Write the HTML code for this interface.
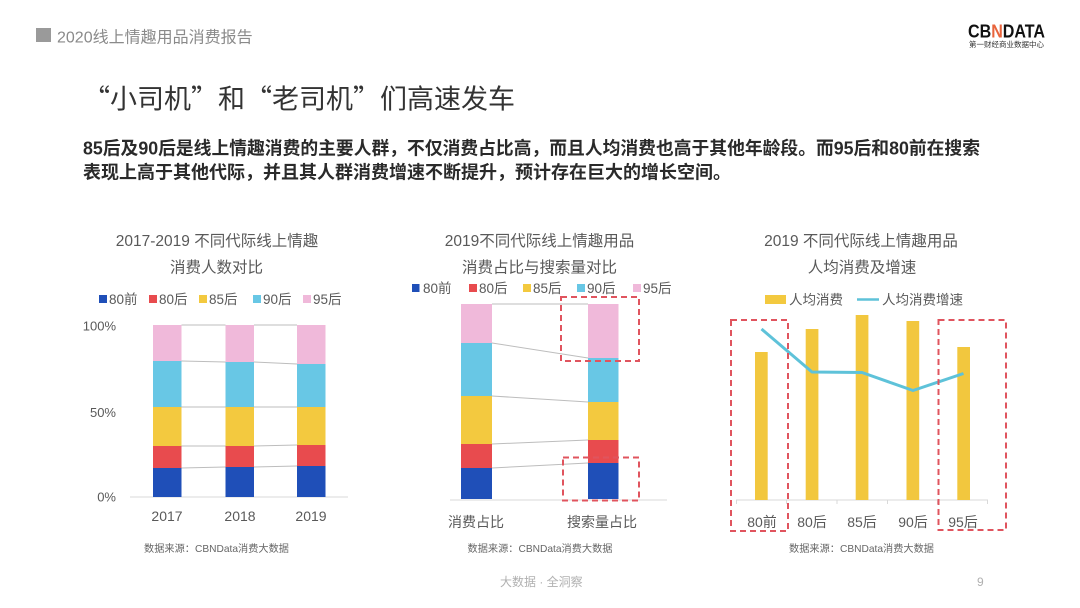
<!DOCTYPE html>
<html><head><meta charset="utf-8">
<style>
html,body{margin:0;padding:0;background:#fff;}
svg{display:block;}
text{font-family:"Liberation Sans","Noto Sans CJK SC",sans-serif;}
.cj{font-family:"Noto Sans CJK SC","Liberation Sans",sans-serif;}
</style></head>
<body>
<svg width="1080" height="608" viewBox="0 0 1080 608" xmlns="http://www.w3.org/2000/svg">
<rect width="1080" height="608" fill="#fff"/>
<!-- header -->
<rect x="36" y="28" width="15" height="14" fill="#9a9a9a"/>
<text x="57" y="42.5" font-size="16" fill="#8a8a8a">2020线上情趣用品消费报告</text>
<!-- logo -->
<text x="968" y="37.3" font-size="18" font-weight="bold" fill="#111" textLength="77" lengthAdjust="spacingAndGlyphs">CB<tspan fill="#e8643c">N</tspan>DATA</text>
<text x="969" y="46.8" font-size="7.5" fill="#333" textLength="75" lengthAdjust="spacingAndGlyphs">第一财经商业数据中心</text>
<!-- title -->
<text class="cj" x="83" y="108.3" font-size="27" fill="#333">“小司机”和“老司机”们高速发车</text>
<!-- body -->
<text x="83" y="154.5" font-size="18" font-weight="bold" fill="#2a2a2a" textLength="897" lengthAdjust="spacingAndGlyphs">85后及90后是线上情趣消费的主要人群，不仅消费占比高，而且人均消费也高于其他年龄段。而95后和80前在搜索</text>
<text x="83" y="178.5" font-size="18" font-weight="bold" fill="#2a2a2a">表现上高于其他代际，并且其人群消费增速不断提升，预计存在巨大的增长空间。</text>

<!-- ============ Chart 1 ============ -->
<g fill="#595959" text-anchor="middle">
<text x="217" y="246" font-size="15.5">2017-2019 不同代际线上情趣</text>
<text x="216.5" y="272.4" font-size="15.5">消费人数对比</text>
</g>
<g font-size="13.5" fill="#595959">
<rect x="99" y="295" width="8" height="8" fill="#1f4fb8"/><text x="109" y="304">80前</text>
<rect x="149" y="295" width="8" height="8" fill="#e84b4e"/><text x="159" y="304">80后</text>
<rect x="199" y="295" width="8" height="8" fill="#f3c93f"/><text x="209" y="304">85后</text>
<rect x="253" y="295" width="8" height="8" fill="#68c7e5"/><text x="263" y="304">90后</text>
<rect x="303" y="295" width="8" height="8" fill="#f0b9da"/><text x="313" y="304">95后</text>
</g>
<g font-size="13" fill="#595959" text-anchor="end">
<text x="116" y="330.7">100%</text>
<text x="116" y="417">50%</text>
<text x="116" y="501.7">0%</text>
</g>
<line x1="130" y1="497" x2="348" y2="497" stroke="#d9d9d9" stroke-width="1"/>
<!-- connectors -->
<g stroke="#bdbdbd" stroke-width="1">
<line x1="181.5" y1="325" x2="225.5" y2="325"/>
<line x1="181.5" y1="361" x2="225.5" y2="362"/>
<line x1="181.5" y1="407" x2="225.5" y2="407"/>
<line x1="181.5" y1="446" x2="225.5" y2="446"/>
<line x1="181.5" y1="468" x2="225.5" y2="467"/>
<line x1="254" y1="325" x2="297" y2="325"/>
<line x1="254" y1="362" x2="297" y2="364"/>
<line x1="254" y1="407" x2="297" y2="407"/>
<line x1="254" y1="446" x2="297" y2="445"/>
<line x1="254" y1="467" x2="297" y2="466"/>
</g>
<!-- bars 2017 -->
<rect x="153" y="325" width="28.5" height="36" fill="#f0b9da"/>
<rect x="153" y="361" width="28.5" height="46" fill="#68c7e5"/>
<rect x="153" y="407" width="28.5" height="39" fill="#f3c93f"/>
<rect x="153" y="446" width="28.5" height="22" fill="#e84b4e"/>
<rect x="153" y="468" width="28.5" height="29" fill="#1f4fb8"/>
<!-- 2018 -->
<rect x="225.5" y="325" width="28.5" height="37" fill="#f0b9da"/>
<rect x="225.5" y="362" width="28.5" height="45" fill="#68c7e5"/>
<rect x="225.5" y="407" width="28.5" height="39" fill="#f3c93f"/>
<rect x="225.5" y="446" width="28.5" height="21" fill="#e84b4e"/>
<rect x="225.5" y="467" width="28.5" height="30" fill="#1f4fb8"/>
<!-- 2019 -->
<rect x="297" y="325" width="28.5" height="39" fill="#f0b9da"/>
<rect x="297" y="364" width="28.5" height="43" fill="#68c7e5"/>
<rect x="297" y="407" width="28.5" height="38" fill="#f3c93f"/>
<rect x="297" y="445" width="28.5" height="21" fill="#e84b4e"/>
<rect x="297" y="466" width="28.5" height="31" fill="#1f4fb8"/>
<g font-size="14" fill="#595959" text-anchor="middle">
<text x="167" y="521">2017</text>
<text x="240" y="521">2018</text>
<text x="311" y="521">2019</text>
</g>
<text x="216.5" y="552" font-size="10.2" fill="#666" text-anchor="middle">数据来源：CBNData消费大数据</text>

<!-- ============ Chart 2 ============ -->
<g fill="#595959" text-anchor="middle">
<text x="539.5" y="246" font-size="15.5">2019不同代际线上情趣用品</text>
<text x="539.5" y="272.4" font-size="15.5">消费占比与搜索量对比</text>
</g>
<g font-size="13.5" fill="#595959">
<rect x="412" y="284" width="7.5" height="8" fill="#1f4fb8"/><text x="423" y="293">80前</text>
<rect x="469" y="284" width="8" height="8" fill="#e84b4e"/><text x="479" y="293">80后</text>
<rect x="523" y="284" width="8" height="8" fill="#f3c93f"/><text x="533" y="293">85后</text>
<rect x="577" y="284" width="8" height="8" fill="#68c7e5"/><text x="587" y="293">90后</text>
<rect x="633" y="284" width="8" height="8" fill="#f0b9da"/><text x="643" y="293">95后</text>
</g>
<line x1="450" y1="500" x2="667" y2="500" stroke="#d9d9d9" stroke-width="1"/>
<g stroke="#bdbdbd" stroke-width="1">
<line x1="492" y1="304" x2="588" y2="304"/>
<line x1="492" y1="343" x2="588" y2="358"/>
<line x1="492" y1="396" x2="588" y2="402"/>
<line x1="492" y1="444" x2="588" y2="440"/>
<line x1="492" y1="468" x2="588" y2="463"/>
</g>
<rect x="461" y="304" width="31" height="39" fill="#f0b9da"/>
<rect x="461" y="343" width="31" height="53" fill="#68c7e5"/>
<rect x="461" y="396" width="31" height="48" fill="#f3c93f"/>
<rect x="461" y="444" width="31" height="24" fill="#e84b4e"/>
<rect x="461" y="468" width="31" height="31" fill="#1f4fb8"/>
<rect x="588" y="304" width="30.5" height="54" fill="#f0b9da"/>
<rect x="588" y="358" width="30.5" height="44" fill="#68c7e5"/>
<rect x="588" y="402" width="30.5" height="38" fill="#f3c93f"/>
<rect x="588" y="440" width="30.5" height="23" fill="#e84b4e"/>
<rect x="588" y="463" width="30.5" height="36" fill="#1f4fb8"/>
<g fill="none" stroke="#e0545e" stroke-width="2" stroke-dasharray="6 4">
<rect x="561" y="297" width="78" height="64"/>
<rect x="563" y="457.5" width="76" height="43"/>
</g>
<g font-size="14" fill="#595959" text-anchor="middle">
<text x="476" y="527">消费占比</text>
<text x="602" y="527">搜索量占比</text>
</g>
<text x="540" y="552" font-size="10.2" fill="#666" text-anchor="middle">数据来源：CBNData消费大数据</text>

<!-- ============ Chart 3 ============ -->
<g fill="#595959" text-anchor="middle">
<text x="861" y="246" font-size="15.5">2019 不同代际线上情趣用品</text>
<text x="862" y="272.4" font-size="15.5">人均消费及增速</text>
</g>
<g font-size="13.5" fill="#595959">
<rect x="765" y="295" width="21" height="9" fill="#f3c93f"/><text x="789" y="304.4">人均消费</text>
<line x1="857" y1="299.5" x2="879" y2="299.5" stroke="#5ec2d9" stroke-width="2.5"/><text x="882" y="304.4">人均消费增速</text>
</g>
<line x1="736" y1="500" x2="988" y2="500" stroke="#d9d9d9" stroke-width="1"/>
<g stroke="#d9d9d9" stroke-width="1">
<line x1="736.5" y1="500" x2="736.5" y2="504"/>
<line x1="786.5" y1="500" x2="786.5" y2="504"/>
<line x1="837" y1="500" x2="837" y2="504"/>
<line x1="887.5" y1="500" x2="887.5" y2="504"/>
<line x1="937.5" y1="500" x2="937.5" y2="504"/>
<line x1="987.5" y1="500" x2="987.5" y2="504"/>
</g>
<g fill="#f2c73e">
<rect x="755" y="352" width="12.7" height="148"/>
<rect x="805.7" y="329" width="12.7" height="171"/>
<rect x="855.7" y="315" width="12.7" height="185"/>
<rect x="906.5" y="321" width="12.7" height="179"/>
<rect x="957.3" y="347" width="12.7" height="153"/>
</g>
<polyline points="761.5,329 812,372 862,372.5 913,390.5 963.5,373.5" fill="none" stroke="#5ec2d9" stroke-width="3" stroke-linejoin="round"/>
<g fill="none" stroke="#e0545e" stroke-width="2" stroke-dasharray="6 4">
<rect x="731" y="320" width="57" height="211"/>
<rect x="938.5" y="320" width="67.5" height="210"/>
</g>
<g font-size="14" fill="#595959" text-anchor="middle">
<text x="762" y="527">80前</text>
<text x="812" y="527">80后</text>
<text x="862" y="527">85后</text>
<text x="913" y="527">90后</text>
<text x="963" y="527">95后</text>
</g>
<text x="861.5" y="552" font-size="10.2" fill="#666" text-anchor="middle">数据来源：CBNData消费大数据</text>

<!-- footer -->
<text x="500" y="586" font-size="12" fill="#b0b0b0">大数据 · 全洞察</text>
<text x="977" y="586" font-size="12" fill="#b0b0b0">9</text>
</svg>
</body></html>
